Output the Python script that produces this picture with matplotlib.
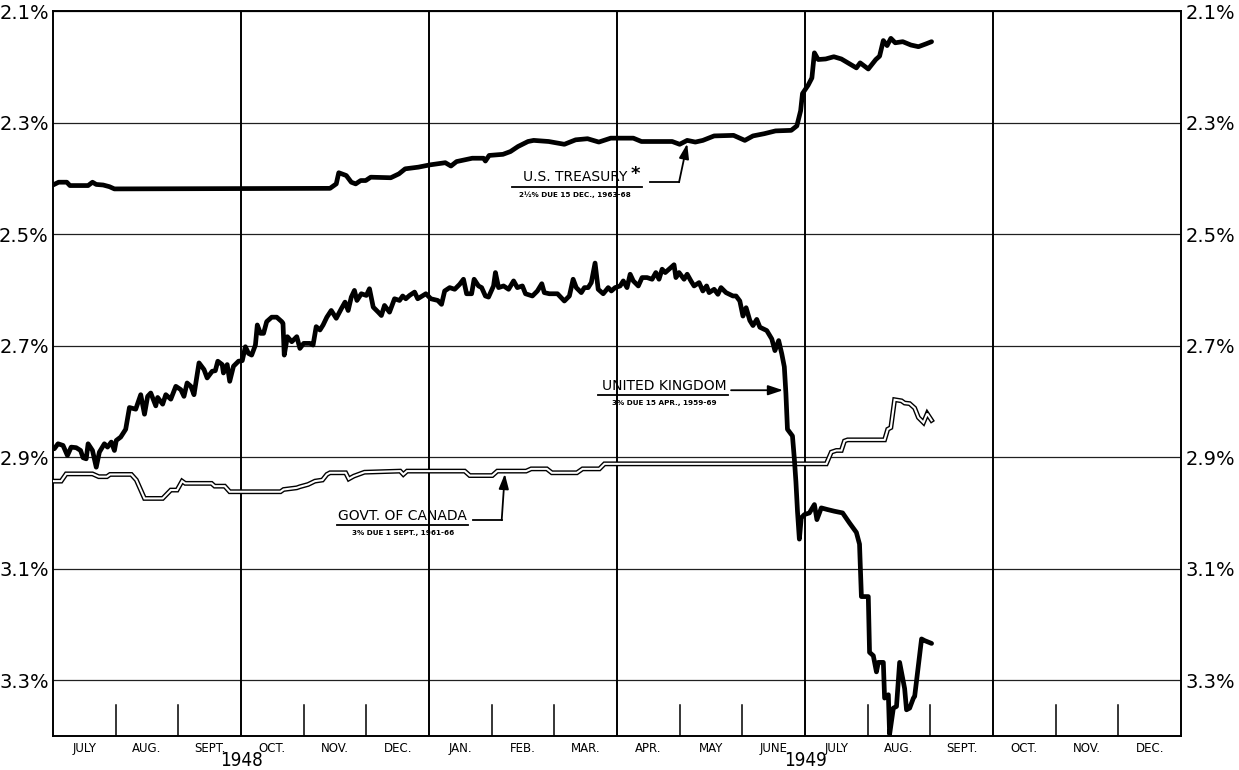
import matplotlib
matplotlib.use("Agg")
import matplotlib.pyplot as plt
import matplotlib.transforms as mtransforms

# ---------------- data (month index: 0 = 1 July 1948) ----------------
month_labels = ["JULY", "AUG.", "SEPT.", "OCT.", "NOV.", "DEC.",
                "JAN.", "FEB.", "MAR.", "APR.", "MAY", "JUNE",
                "JULY", "AUG.", "SEPT.", "OCT.", "NOV.", "DEC."]
year_labels = ["1948", "1949"]
year_positions = [3, 12]
ytick_values = [2.1, 2.3, 2.5, 2.7, 2.9, 3.1, 3.3]

us_month = [0.00, 0.09, 0.22, 0.27, 0.56, 0.63, 0.69, 0.80, 0.90, 0.98,
            4.42, 4.52, 4.56, 4.68, 4.76, 4.83, 4.91, 4.99, 5.07, 5.39,
            5.52, 5.62, 5.83, 6.01, 6.26, 6.35, 6.44, 6.69, 6.87, 6.90,
            6.96, 7.18, 7.30, 7.42, 7.58, 7.67, 7.91, 8.16, 8.34, 8.53,
            8.71, 8.90, 9.26, 9.39, 9.88, 10.00, 10.12, 10.25, 10.37, 10.55,
            10.86, 11.04, 11.17, 11.35, 11.53, 11.78, 11.87, 11.93, 11.96, 12.05,
            12.11, 12.15, 12.21, 12.33, 12.46, 12.58, 12.70, 12.82, 12.88, 13.01,
            13.13, 13.19, 13.25, 13.31, 13.37, 13.44, 13.56, 13.69, 13.81, 13.93,
            14.02]
us_yield = [2.412, 2.407, 2.407, 2.413, 2.413, 2.407, 2.411, 2.412, 2.415, 2.419,
            2.418, 2.410, 2.390, 2.395, 2.407, 2.410, 2.404, 2.404, 2.398, 2.399,
            2.392, 2.383, 2.380, 2.376, 2.372, 2.378, 2.370, 2.364, 2.364, 2.369,
            2.359, 2.357, 2.352, 2.343, 2.334, 2.332, 2.334, 2.339, 2.331, 2.329,
            2.335, 2.328, 2.328, 2.334, 2.334, 2.339, 2.332, 2.335, 2.332, 2.324,
            2.323, 2.332, 2.324, 2.320, 2.315, 2.314, 2.306, 2.279, 2.248, 2.233,
            2.220, 2.175, 2.187, 2.186, 2.182, 2.186, 2.194, 2.202, 2.193, 2.204,
            2.187, 2.181, 2.153, 2.162, 2.149, 2.157, 2.155, 2.161, 2.164, 2.159,
            2.155]

uk_month = [0.02, 0.08, 0.16, 0.23, 0.29, 0.37, 0.44, 0.48, 0.53, 0.56,
            0.63, 0.69, 0.74, 0.82, 0.87, 0.93, 0.98, 1.01, 1.08, 1.16,
            1.22, 1.32, 1.40, 1.46, 1.51, 1.56, 1.64, 1.67, 1.75, 1.80,
            1.88, 1.96, 2.04, 2.09, 2.14, 2.20, 2.25, 2.33, 2.41, 2.46,
            2.54, 2.59, 2.63, 2.70, 2.72, 2.78, 2.82, 2.88, 2.96, 3.02,
            3.07, 3.12, 3.17, 3.23, 3.26, 3.31, 3.36, 3.41, 3.49, 3.57,
            3.65, 3.67, 3.69, 3.74, 3.81, 3.89, 3.94, 4.00, 4.10, 4.15,
            4.20, 4.26, 4.31, 4.37, 4.44, 4.52, 4.60, 4.66, 4.71, 4.76,
            4.81, 4.85, 4.92, 5.00, 5.05, 5.11, 5.19, 5.24, 5.29, 5.37,
            5.45, 5.53, 5.58, 5.63, 5.69, 5.77, 5.82, 5.95, 6.03, 6.14,
            6.20, 6.25, 6.33, 6.41, 6.49, 6.55, 6.60, 6.68, 6.72, 6.79,
            6.84, 6.90, 6.95, 7.03, 7.06, 7.11, 7.19, 7.27, 7.35, 7.41,
            7.49, 7.54, 7.65, 7.73, 7.80, 7.84, 7.92, 8.05, 8.16, 8.24,
            8.30, 8.35, 8.43, 8.48, 8.54, 8.59, 8.65, 8.70, 8.78, 8.86,
            8.91, 8.97, 9.05, 9.10, 9.16, 9.21, 9.26, 9.34, 9.40, 9.48,
            9.56, 9.62, 9.67, 9.72, 9.77, 9.85, 9.91, 9.94, 9.99, 10.07,
            10.12, 10.18, 10.23, 10.31, 10.37, 10.43, 10.47, 10.55, 10.61, 10.66,
            10.74, 10.85, 10.90, 10.96, 11.01, 11.06, 11.12, 11.17, 11.23, 11.28,
            11.39, 11.47, 11.52, 11.58, 11.63,
            11.67, 11.695, 11.72, 11.80, 11.83, 11.855, 11.88, 11.91, 11.94, 11.99,
            12.07, 12.15, 12.19, 12.26, 12.36, 12.47, 12.60, 12.71, 12.82, 12.87,
            12.90, 13.01, 13.03, 13.09, 13.14, 13.17, 13.25, 13.27, 13.33, 13.35,
            13.41, 13.46, 13.51, 13.59, 13.62, 13.67, 13.73, 13.75, 13.86, 13.91,
            14.02]
uk_yield = [2.885, 2.876, 2.879, 2.897, 2.882, 2.883, 2.888, 2.901, 2.903, 2.876,
            2.888, 2.918, 2.891, 2.876, 2.882, 2.873, 2.888, 2.870, 2.864, 2.850,
            2.811, 2.814, 2.788, 2.823, 2.791, 2.785, 2.808, 2.793, 2.805, 2.788,
            2.796, 2.773, 2.779, 2.791, 2.767, 2.773, 2.788, 2.731, 2.743, 2.758,
            2.746, 2.745, 2.728, 2.734, 2.749, 2.734, 2.764, 2.737, 2.728, 2.727,
            2.702, 2.714, 2.717, 2.699, 2.663, 2.678, 2.678, 2.657, 2.649, 2.649,
            2.657, 2.660, 2.717, 2.684, 2.693, 2.684, 2.705, 2.696, 2.696, 2.699,
            2.666, 2.672, 2.663, 2.649, 2.637, 2.651, 2.634, 2.622, 2.637, 2.613,
            2.601, 2.619, 2.607, 2.610, 2.598, 2.631, 2.640, 2.646, 2.628, 2.640,
            2.616, 2.619, 2.611, 2.616, 2.610, 2.604, 2.616, 2.607, 2.616, 2.619,
            2.626, 2.602, 2.596, 2.599, 2.590, 2.581, 2.607, 2.607, 2.581, 2.593,
            2.596, 2.611, 2.613, 2.593, 2.569, 2.596, 2.593, 2.599, 2.584, 2.596,
            2.593, 2.607, 2.611, 2.602, 2.589, 2.605, 2.607, 2.607, 2.620, 2.611,
            2.581, 2.596, 2.605, 2.596, 2.596, 2.587, 2.552, 2.599, 2.607, 2.596,
            2.602, 2.596, 2.593, 2.584, 2.596, 2.572, 2.584, 2.593, 2.578, 2.578,
            2.581, 2.569, 2.581, 2.563, 2.569, 2.561, 2.555, 2.578, 2.569, 2.581,
            2.572, 2.584, 2.593, 2.587, 2.602, 2.593, 2.605, 2.599, 2.608, 2.596,
            2.605, 2.611, 2.611, 2.620, 2.647, 2.632, 2.655, 2.664, 2.653, 2.667,
            2.673, 2.688, 2.709, 2.691, 2.715,
            2.738, 2.785, 2.850, 2.862, 2.903, 2.944, 2.997, 3.047, 3.009, 3.003,
            3.000, 2.985, 3.012, 2.991, 2.994, 2.997, 3.000, 3.018, 3.035, 3.056,
            3.150, 3.150, 3.250, 3.256, 3.285, 3.268, 3.268, 3.332, 3.326, 3.397,
            3.350, 3.347, 3.268, 3.315, 3.353, 3.350, 3.332, 3.329, 3.226, 3.229,
            3.234]

ca_month = [0.00, 0.13, 0.21, 0.63, 0.73, 0.86, 0.91, 1.25, 1.33, 1.46,
            1.75, 1.88, 1.98, 2.06, 2.11, 2.53, 2.58, 2.74, 2.82, 3.63,
            3.68, 3.89, 3.94, 4.07, 4.18, 4.30, 4.37, 4.42, 4.67, 4.72,
            4.80, 4.97, 5.54, 5.59, 5.65, 6.57, 6.65, 7.01, 7.09, 7.55,
            7.63, 7.88, 7.96, 8.36, 8.45, 8.72, 8.80, 12.34, 12.42, 12.50,
            12.58, 12.63, 12.68, 13.27, 13.32, 13.37, 13.43, 13.54, 13.59, 13.67,
            13.75, 13.81, 13.89, 13.95, 14.02]
ca_yield = [2.943, 2.943, 2.930, 2.930, 2.935, 2.935, 2.931, 2.931, 2.941, 2.974,
            2.974, 2.959, 2.959, 2.943, 2.947, 2.947, 2.952, 2.952, 2.962, 2.962,
            2.958, 2.955, 2.953, 2.949, 2.943, 2.941, 2.931, 2.928, 2.928, 2.939,
            2.934, 2.927, 2.925, 2.931, 2.925, 2.925, 2.933, 2.933, 2.925, 2.925,
            2.921, 2.921, 2.928, 2.928, 2.921, 2.921, 2.912, 2.912, 2.891, 2.888,
            2.888, 2.871, 2.869, 2.869, 2.850, 2.847, 2.797, 2.799, 2.803, 2.804,
            2.812, 2.829, 2.838, 2.822, 2.834]

# ---------------- figure ----------------
plt.rcParams['font.family'] = ['DejaVu Sans']
W, H = 1239, 770
fig = plt.figure(figsize=(W / 100, H / 100), dpi=100)
fig.patch.set_facecolor('white')
L, R, T, B = 53, 1181, 11, 736
ax = fig.add_axes([L / W, 1 - B / H, (R - L) / W, (B - T) / H])
n_months = len(month_labels)
ax.set_xlim(0, n_months)
ax.set_ylim(3.40, 2.1)

for s in ax.spines.values():
    s.set_linewidth(1.4)
    s.set_color('black')

# horizontal grid
for v in ytick_values:
    ax.axhline(v, color='#202020', lw=0.9, zorder=1)
# quarterly verticals
for m in range(3, n_months, 3):
    ax.axvline(m, color='black', lw=1.4, zorder=1)
# short monthly ticks at bottom
for m in range(1, n_months):
    if m % 3:
        ax.axvline(m, ymin=0, ymax=0.043, color='black', lw=1.1, zorder=1)

ax.set_xticks([])
ax.set_yticks(ytick_values)
ax.set_yticklabels([f"{v:.1f}%" for v in ytick_values])
ax.tick_params(axis='y', length=0, pad=3, labelsize=14,
               labelleft=True, labelright=True)

trans = mtransforms.blended_transform_factory(ax.transData, ax.transAxes)
for i, lab in enumerate(month_labels):
    ax.text(i + 0.5, -0.017, lab, transform=trans, ha='center', va='center',
            fontsize=8.5, clip_on=False)
for lab, pos in zip(year_labels, year_positions):
    ax.text(pos, -0.0335, lab, transform=trans, ha='center', va='center',
            fontsize=13.5, fontstretch='condensed', clip_on=False)

# ---------------- series ----------------
ax.plot(us_month, us_yield, color='black', lw=3.4, solid_joinstyle='round',
        solid_capstyle='round', zorder=4)
ax.plot(uk_month, uk_yield, color='black', lw=3.4, solid_joinstyle='round',
        solid_capstyle='round', zorder=4)
ax.plot(ca_month, ca_yield, color='black', lw=3.5, solid_joinstyle='miter', zorder=3)
ax.plot(ca_month, ca_yield, color='white', lw=1.5, solid_joinstyle='miter', zorder=3.1)

# ---------------- annotations ----------------
arrow_kw = dict(arrowstyle='-|>,head_length=0.9,head_width=0.3', color='black', lw=1.3,
                shrinkA=0, shrinkB=0)

def label(xc, y, title, sub, ux0, ux1):
    ax.text(xc, y, title, ha='center', va='bottom', fontsize=10, zorder=5)
    ax.plot([ux0, ux1], [y + 0.004, y + 0.004], color='black', lw=1.3, zorder=5)
    ax.text(xc, y + 0.012, sub, ha='center', va='top', fontsize=5.2,
            fontweight='bold', zorder=5)

# U.S. Treasury
label(8.33, 2.411, "U.S. TREASURY", "2½% DUE 15 DEC., 1963-68", 7.32, 9.40)
ax.text(9.22, 2.393, "*", fontsize=13, fontweight='bold', ha='left', va='center')
ax.plot([9.52, 9.99], [2.407, 2.407], color='black', lw=1.3)
ax.annotate("", xy=(10.12, 2.338), xytext=(9.99, 2.407), arrowprops=arrow_kw)

# United Kingdom
label(9.75, 2.785, "UNITED KINGDOM", "3% DUE 15 APR., 1959-69", 8.70, 10.77)
ax.annotate("", xy=(11.65, 2.780), xytext=(10.82, 2.780), arrowprops=arrow_kw)

# Government of Canada
label(5.58, 3.018, "GOVT. OF CANADA", "3% DUE 1 SEPT., 1961-66", 4.53, 6.62)
ax.plot([6.70, 7.16], [3.013, 3.013], color='black', lw=1.3)
ax.annotate("", xy=(7.21, 2.930), xytext=(7.16, 3.013), arrowprops=arrow_kw)

fig.savefig("out.png", dpi=100, facecolor='white')
